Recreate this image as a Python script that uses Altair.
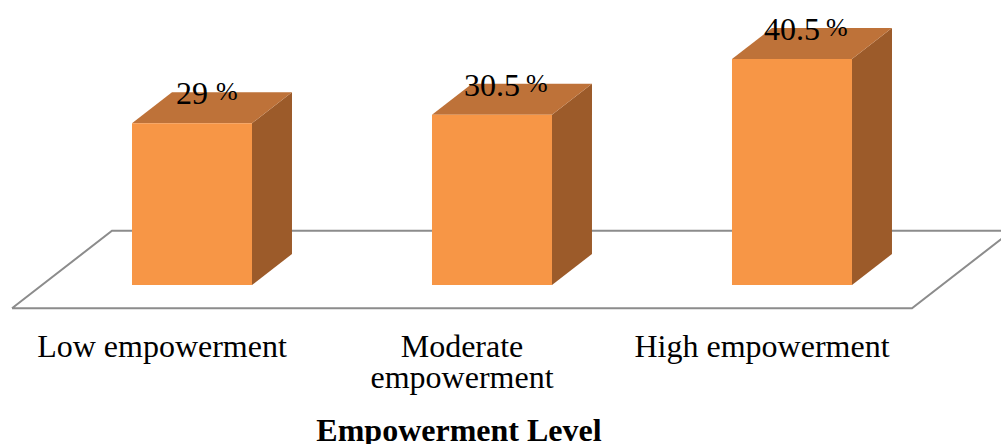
import altair as alt
import pandas as pd

# ---- data -------------------------------------------------------------
categories = ["Low empowerment", "Moderate empowerment", "High empowerment"]
axis_labels = ["Low empowerment", "Moderate\nempowerment", "High empowerment"]
values = [29.0, 30.5, 40.5]
value_numbers = ["29", "30.5", "40.5"]
axis_title = "Empowerment Level"

# ---- oblique 3-D projection settings ----------------------------------
BAR_HALF = 0.2          # half bar width, in category units
DEPTH_X = 0.1333        # horizontal shift of one bar depth, category units
DEPTH_Y = 5.56          # vertical shift of one bar depth, value units
FLOOR_FRONT = -0.75     # floor front edge, in bar depths
FLOOR_BACK = 1.75       # floor back edge, in bar depths
FLOOR_SPAN = [-0.5, 2.5]

FRONT = "#F79646"
TOP = "#BE7239"
SIDE = "#9C5B2A"
FLOOR = "#8C8C8C"
FONT = "Liberation Serif"

x_scale = alt.Scale(domain=[-0.64, 2.6967], nice=False, zero=False)
y_scale = alt.Scale(domain=[-28.49, 51.08], nice=False, zero=False)

idx = list(range(len(categories)))
bars = pd.DataFrame({"cat": categories, "i": idx, "v": values,
                     "num": value_numbers, "axis": axis_labels})
bars["x0"] = bars["i"] - BAR_HALF
bars["x1"] = bars["i"] + BAR_HALF
bars["zero"] = 0.0
bars["pct"] = "%"

# top face: horizontal band from front edge (at v) to back edge (v + depth)
top_rows = []
for i, c, v in zip(idx, categories, values):
    top_rows.append({"cat": c, "y": v, "xa": i - BAR_HALF, "xb": i + BAR_HALF})
    top_rows.append({"cat": c, "y": v + DEPTH_Y,
                     "xa": i - BAR_HALF + DEPTH_X, "xb": i + BAR_HALF + DEPTH_X})
top_df = pd.DataFrame(top_rows)

# side face: vertical band from the right front edge to the right back edge
side_rows = []
for i, c, v in zip(idx, categories, values):
    side_rows.append({"cat": c, "x": i + BAR_HALF, "ya": v, "yb": 0.0})
    side_rows.append({"cat": c, "x": i + BAR_HALF + DEPTH_X,
                      "ya": v + DEPTH_Y, "yb": DEPTH_Y})
side_df = pd.DataFrame(side_rows)

# floor outline (closed parallelogram at value 0)
corners = [(FLOOR_SPAN[0], FLOOR_FRONT), (FLOOR_SPAN[1], FLOOR_FRONT),
           (FLOOR_SPAN[1], FLOOR_BACK), (FLOOR_SPAN[0], FLOOR_BACK),
           (FLOOR_SPAN[0], FLOOR_FRONT)]
floor_df = pd.DataFrame([{"o": k, "x": cx + d * DEPTH_X, "y": d * DEPTH_Y}
                         for k, (cx, d) in enumerate(corners)])

X = lambda f: alt.X(f, type="quantitative", scale=x_scale, axis=None)
Y = lambda f: alt.Y(f, type="quantitative", scale=y_scale, axis=None)

floor = alt.Chart(floor_df).mark_line(color=FLOOR, strokeWidth=2, clip=True).encode(
    x=X("x"), y=Y("y"), order="o:Q")

side = alt.Chart(side_df).mark_area(color=SIDE).encode(
    x=X("x"), y=Y("ya"), y2="yb", detail="cat:N")

top = alt.Chart(top_df).mark_area(color=TOP, orient="horizontal").encode(
    y=Y("y"), x=X("xa"), x2="xb", detail="cat:N")

front = alt.Chart(bars).mark_rect(color=FRONT).encode(
    x=X("x0"), x2="x1", y=Y("zero"), y2="v")

# value label: number centred over the bar, smaller raised "%" after it
value_num = alt.Chart(bars).mark_text(
    font=FONT, fontSize=32, color="black", align="center",
    baseline="alphabetic", dy=-19).encode(
    x=X("i"), y=Y("v"), text="num:N")

pct_base = alt.Chart(bars)
pct_short = pct_base.transform_filter("length(datum.num) <= 2").mark_text(
    font=FONT, fontSize=26, color="black", align="left",
    baseline="alphabetic", dx=24, dy=-23).encode(
    x=X("i"), y=Y("v"), text="pct:N")
pct_long = pct_base.transform_filter("length(datum.num) > 2").mark_text(
    font=FONT, fontSize=26, color="black", align="left",
    baseline="alphabetic", dx=34, dy=-23).encode(
    x=X("i"), y=Y("v"), text="pct:N")

cat_text = alt.Chart(bars).mark_text(
    font=FONT, fontSize=32, color="black", align="center",
    baseline="alphabetic", dx=-30, dy=72, lineBreak="\n", lineHeight=31).encode(
    x=X("i"), y=Y("zero"), text="axis:N")

title_df = pd.DataFrame({"i": [1], "zero": [0.0], "t": [axis_title]})
title_text = alt.Chart(title_df).mark_text(
    font=FONT, fontSize=32, fontWeight="bold", color="black", align="center",
    baseline="alphabetic", dx=-33, dy=156).encode(
    x=X("i"), y=Y("zero"), text="t:N")

chart = alt.layer(floor, side, top, front, value_num, pct_short, pct_long,
                  cat_text, title_text).properties(
    width=1001, height=444, padding=0, autosize=alt.AutoSizeParams(type="none"),
    background="white",
).configure_view(stroke=None)

chart.save("out.html", embed_options={"renderer": "svg", "actions": False})
